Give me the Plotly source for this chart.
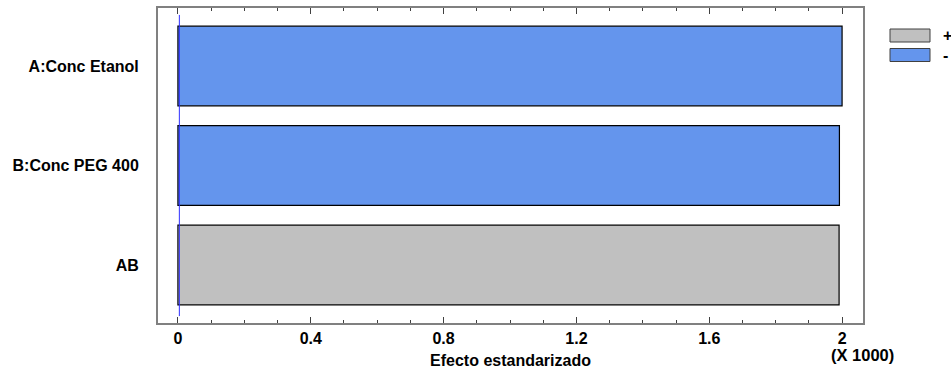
import plotly.graph_objects as go

categories = ["A:Conc Etanol", "B:Conc PEG 400", "AB"]
effects = [2000, 1992, 1991]
signs = ["-", "-", "+"]
tick_vals = [0, 400, 800, 1200, 1600, 2000]
tick_text = ["0", "0.4", "0.8", "1.2", "1.6", "2"]
critical_value = 4.3

colors = {"+": "#C0C0C0", "-": "#6495ED"}
FONT = "Liberation Sans, Arial, sans-serif"

# body margin removed by post_script, so window px == figure px
PL, PR, PT, PB = 158, 863, 8, 323
W, H = 951, 371
PW, PH = PR - PL, PB - PT


def px(xw):
    return (xw - PL) / PW


def py(yw):
    return 1 - (yw - PT) / PH


fig = go.Figure()
fig.add_trace(go.Bar(
    y=categories, x=effects, orientation="h",
    marker=dict(color=[colors[s] for s in signs], line=dict(color="black", width=1.2)),
    width=0.8, showlegend=False,
))

fig.add_shape(type="line", xref="x", yref="paper", x0=critical_value, x1=critical_value,
              y0=0.022, y1=0.978, line=dict(color="#3030FF", width=1))

# legend
for i, (lab, col) in enumerate([("+", colors["+"]), ("-", colors["-"])]):
    yt = 29 + i * 19.5
    yb = yt + 13
    fig.add_shape(type="rect", xref="paper", yref="paper",
                  x0=px(890), x1=px(930), y0=py(yb), y1=py(yt),
                  line=dict(color="#404040", width=1), fillcolor=col)
    fig.add_annotation(xref="paper", yref="paper", x=px(941), y=py((yt + yb) / 2),
                       text="<b>%s</b>" % lab, showarrow=False, xanchor="left", yanchor="middle",
                       font=dict(family=FONT, size=16, color="black"))

fig.add_annotation(xref="x", yref="paper", x=2000, y=py(344), text="<b>(X 1000)</b>",
                   showarrow=False, xanchor="center", yanchor="top", xshift=20,
                   font=dict(family=FONT, size=16.5, color="black"))

fig.update_layout(
    width=W, height=H,
    margin=dict(l=PL, r=W - PR, t=PT, b=H - PB, autoexpand=False),
    paper_bgcolor="white", plot_bgcolor="white",
    font=dict(family=FONT, size=15, color="black"),
    xaxis=dict(
        range=[-60, 2063], tickvals=tick_vals, ticktext=["<b>%s</b>" % t for t in tick_text],
        ticks="inside", ticklen=6, tickcolor="#404040", tickwidth=1.2,
        minor=dict(dtick=100, ticks="inside", ticklen=3, tickcolor="#404040", tickwidth=1.2),
        showline=True, linecolor="#808080", linewidth=2, mirror="allticks",
        showgrid=False, zeroline=False, automargin=False,
        title=dict(text="<b>Efecto estandarizado</b>", standoff=9, font=dict(size=16)),
        tickfont=dict(size=16),
    ),
    yaxis=dict(
        categoryorder="array", categoryarray=categories, autorange=False,
        range=[2.583, -0.583],
        ticktext=["<b>%s</b>" % c for c in categories], tickvals=categories,
        showline=True, linecolor="#808080", linewidth=2, mirror=True,
        showgrid=False, zeroline=False, ticks="", ticklabelstandoff=14, automargin=False,
        tickfont=dict(size=16),
    ),
)

fig.write_html("out.html", config={"displayModeBar": False},
               post_script="document.body.style.margin='0';")
